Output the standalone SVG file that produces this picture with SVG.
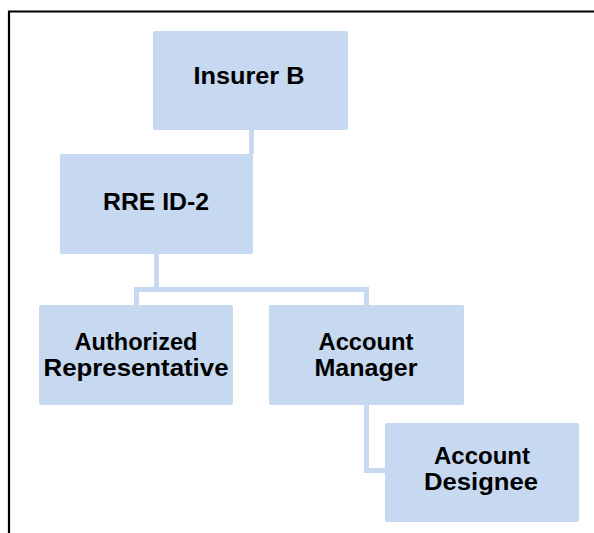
<svg xmlns="http://www.w3.org/2000/svg" width="594" height="533" viewBox="0 0 594 533">
<style>
.box{fill:#c6d9f0;}
.conn{fill:none;stroke:#c6d9f0;stroke-width:5;stroke-linejoin:miter;}
.lbl{font-family:"Liberation Sans",Arial,sans-serif;font-weight:bold;font-size:23px;fill:#000;text-anchor:middle;}
</style>
<rect width="594" height="533" fill="#fff"/>
<path d="M9 533 V11.5 H594" fill="none" stroke="#000" stroke-width="2.2"/>
<g id="connectors">
<path class="conn" d="M251.5 130 V154"/>
<path class="conn" d="M156.5 254 V289.5 H136.5 V305"/>
<path class="conn" d="M156.5 289.5 H366.5 V305"/>
<path class="conn" d="M366.5 405 V470.5 H385"/>
</g>
<g id="insurer-b">
<rect class="box" x="153" y="31" width="195" height="99" rx="2"/>
<text class="lbl" x="249" y="84" textLength="111" lengthAdjust="spacingAndGlyphs">Insurer B</text>
</g>
<g id="rre-id-2">
<rect class="box" x="60" y="154" width="193" height="100" rx="2"/>
<text class="lbl" x="156" y="210" textLength="106" lengthAdjust="spacingAndGlyphs">RRE ID-2</text>
</g>
<g id="authorized-representative">
<rect class="box" x="39" y="305" width="194" height="100" rx="2"/>
<text class="lbl" x="136" y="350" textLength="123" lengthAdjust="spacingAndGlyphs">Authorized</text>
<text class="lbl" x="136" y="376" textLength="185" lengthAdjust="spacingAndGlyphs">Representative</text>
</g>
<g id="account-manager">
<rect class="box" x="269" y="305" width="195" height="100" rx="2"/>
<text class="lbl" x="366" y="350" textLength="95" lengthAdjust="spacingAndGlyphs">Account</text>
<text class="lbl" x="366" y="376" textLength="103" lengthAdjust="spacingAndGlyphs">Manager</text>
</g>
<g id="account-designee">
<rect class="box" x="385" y="423" width="194" height="99" rx="2"/>
<text class="lbl" x="482" y="464" textLength="96" lengthAdjust="spacingAndGlyphs">Account</text>
<text class="lbl" x="481" y="490" textLength="114" lengthAdjust="spacingAndGlyphs">Designee</text>
</g>
</svg>
